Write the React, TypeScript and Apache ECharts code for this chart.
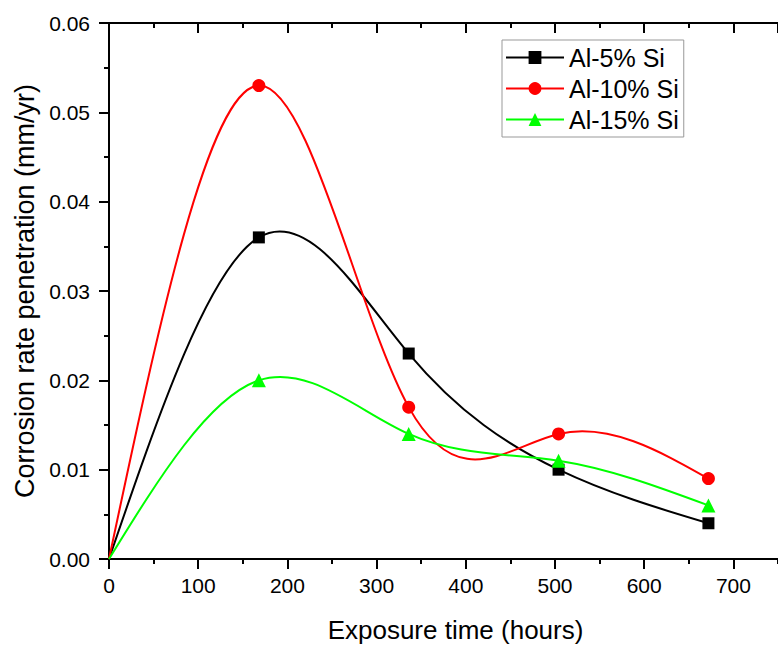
import React, { useEffect, useRef } from "react";
import * as echarts from "echarts";

const hours = [0, 168, 336, 504, 672];
const al5 = [0, 0.036, 0.023, 0.01, 0.004];
const al10 = [0, 0.053, 0.017, 0.014, 0.009];
const al15 = [0, 0.02, 0.014, 0.011, 0.006];
const seriesNames = ["Al-5% Si", "Al-10% Si", "Al-15% Si"];
const seriesColors = ["#000000", "#ff0000", "#00ff00"];
const seriesSymbols = ["rect", "circle", "triangle"];
const seriesSizes = [12, 13, 14];

const FONT = "'Liberation Sans', Arial, sans-serif";

// Natural cubic spline slopes at the knots (Origin "Spline" connection style)
function splineSlopes(xs: number[], ys: number[]): number[] {
  const n = xs.length;
  const h: number[] = [];
  for (let i = 0; i < n - 1; i++) h.push(xs[i + 1] - xs[i]);
  const M = new Array(n).fill(0);
  const a: number[] = [], b: number[] = [], c: number[] = [], d: number[] = [];
  for (let i = 1; i < n - 1; i++) {
    a.push(h[i - 1]);
    b.push(2 * (h[i - 1] + h[i]));
    c.push(h[i]);
    d.push(6 * ((ys[i + 1] - ys[i]) / h[i] - (ys[i] - ys[i - 1]) / h[i - 1]));
  }
  const m = b.length;
  for (let i = 1; i < m; i++) {
    const w = a[i] / b[i - 1];
    b[i] -= w * c[i - 1];
    d[i] -= w * d[i - 1];
  }
  const sol = new Array(m).fill(0);
  for (let i = m - 1; i >= 0; i--) {
    sol[i] = (d[i] - (i < m - 1 ? c[i] * sol[i + 1] : 0)) / b[i];
  }
  for (let i = 0; i < m; i++) M[i + 1] = sol[i];
  const s: number[] = [];
  for (let i = 0; i < n - 1; i++) {
    s.push((ys[i + 1] - ys[i]) / h[i] - (h[i] * (2 * M[i] + M[i + 1])) / 6);
  }
  const k = n - 1;
  s.push((ys[k] - ys[k - 1]) / h[k - 1] + (h[k - 1] * (M[k - 1] + 2 * M[k])) / 6);
  return s;
}

function toPoints(values: number[]) {
  return hours.map((h, i) =>
    i === 0 ? { value: [h, values[i]], symbol: "none" } : { value: [h, values[i]] }
  );
}

export default function App() {
  const ref = useRef<HTMLDivElement>(null);
  useEffect(() => {
    if (!ref.current) return;
    const chart = echarts.init(ref.current, null, { renderer: "svg" });
    const lineStyle = { color: "#000", width: 2 };
    const baseX = { type: "value", min: 0, max: 750, splitLine: { show: false } };
    const allValues = [al5, al10, al15];

    const curveSeries = allValues.map((vals, si) => {
      const slopes = splineSlopes(hours, vals);
      return {
        name: seriesNames[si] + " spline",
        type: "custom",
        xAxisIndex: 0,
        yAxisIndex: 0,
        z: 2,
        silent: true,
        encode: { x: 0, y: 1 },
        data: hours.map((h, i) => [h, vals[i]]),
        renderItem: (params: any, api: any) => {
          const i = params.dataIndex;
          if (i >= hours.length - 1) return { type: "group", children: [] };
          const h = hours[i + 1] - hours[i];
          const p0 = api.coord([hours[i], vals[i]]);
          const p1 = api.coord([hours[i + 1], vals[i + 1]]);
          const c0 = api.coord([hours[i] + h / 3, vals[i] + (slopes[i] * h) / 3]);
          const c1 = api.coord([hours[i + 1] - h / 3, vals[i + 1] - (slopes[i + 1] * h) / 3]);
          return {
            type: "bezierCurve",
            shape: {
              x1: p0[0], y1: p0[1], x2: p1[0], y2: p1[1],
              cpx1: c0[0], cpy1: c0[1], cpx2: c1[0], cpy2: c1[1],
            },
            style: { stroke: seriesColors[si], lineWidth: 2, fill: "none" },
          };
        },
      };
    });

    chart.setOption({
      animation: false,
      backgroundColor: "#ffffff",
      grid: { left: 109, right: -3, top: 23, bottom: 85 },
      legend: {
        orient: "vertical",
        left: 502,
        top: 40,
        borderColor: "#999",
        borderWidth: 1,
        padding: [2, 5, 2, 3],
        itemGap: 0,
        itemWidth: 58,
        itemHeight: 16,
        textStyle: { fontSize: 25, lineHeight: 31, color: "#000", fontFamily: FONT },
        data: seriesNames.map((name, i) => ({
          name,
          lineStyle: { color: seriesColors[i], width: 2, opacity: 1 },
        })),
      },
      xAxis: [
        {
          ...baseX,
          position: "bottom",
          interval: 100,
          name: "Exposure time (hours)",
          nameLocation: "middle",
          nameGap: 58,
          nameTextStyle: { fontSize: 26, color: "#000", fontFamily: FONT, padding: [0, 0, 0, 24] },
          axisLine: { show: true, lineStyle },
          axisTick: { show: true, inside: false, length: 10, lineStyle },
          axisLabel: { show: true, margin: 16, fontSize: 21, color: "#000", fontFamily: FONT, showMaxLabel: false },
        },
        {
          ...baseX,
          position: "bottom",
          interval: 50,
          axisLine: { show: false },
          axisTick: { show: true, inside: false, length: 5, lineStyle },
          axisLabel: { show: false },
        },
        {
          ...baseX,
          position: "top",
          interval: 100,
          axisLine: { show: true, lineStyle },
          axisTick: { show: true, inside: true, length: 10, lineStyle },
          axisLabel: { show: false },
        },
        {
          ...baseX,
          position: "top",
          interval: 50,
          axisLine: { show: false },
          axisTick: { show: true, inside: true, length: 5, lineStyle },
          axisLabel: { show: false },
        },
      ],
      yAxis: [
        {
          type: "value",
          position: "left",
          min: 0,
          max: 0.06,
          interval: 0.01,
          splitLine: { show: false },
          name: "Corrosion rate penetration (mm/yr)",
          nameLocation: "middle",
          nameGap: 68,
          nameTextStyle: { fontSize: 27, color: "#000", fontFamily: FONT },
          axisLine: { show: true, lineStyle },
          axisTick: { show: true, inside: false, length: 10, lineStyle },
          minorTick: { show: true, splitNumber: 2, length: 5, lineStyle },
          axisLabel: {
            margin: 19,
            fontSize: 21,
            color: "#000",
            fontFamily: FONT,
            formatter: (v: number) => v.toFixed(2),
          },
        },
        {
          type: "value",
          position: "right",
          min: 0,
          max: 0.06,
          interval: 0.01,
          splitLine: { show: false },
          axisLine: { show: true, lineStyle },
          axisTick: { show: true, inside: true, length: 10, lineStyle },
          minorTick: { show: true, splitNumber: 2, length: 5, lineStyle },
          axisLabel: { show: false },
        },
      ],
      series: [
        ...curveSeries,
        ...seriesNames.map((name, i) => ({
          name,
          type: "line",
          xAxisIndex: 0,
          yAxisIndex: 0,
          z: 3,
          symbol: seriesSymbols[i],
          symbolSize: seriesSizes[i],
          color: seriesColors[i],
          lineStyle: { width: 2, color: seriesColors[i], opacity: 0 },
          itemStyle: { color: seriesColors[i] },
          data: toPoints(allValues[i]),
        })),
      ],
    });
    return () => chart.dispose();
  }, []);
  return (
    <div
      ref={ref}
      style={{ position: "absolute", left: 0, top: 0, width: 778, height: 648 }}
    />
  );
}
